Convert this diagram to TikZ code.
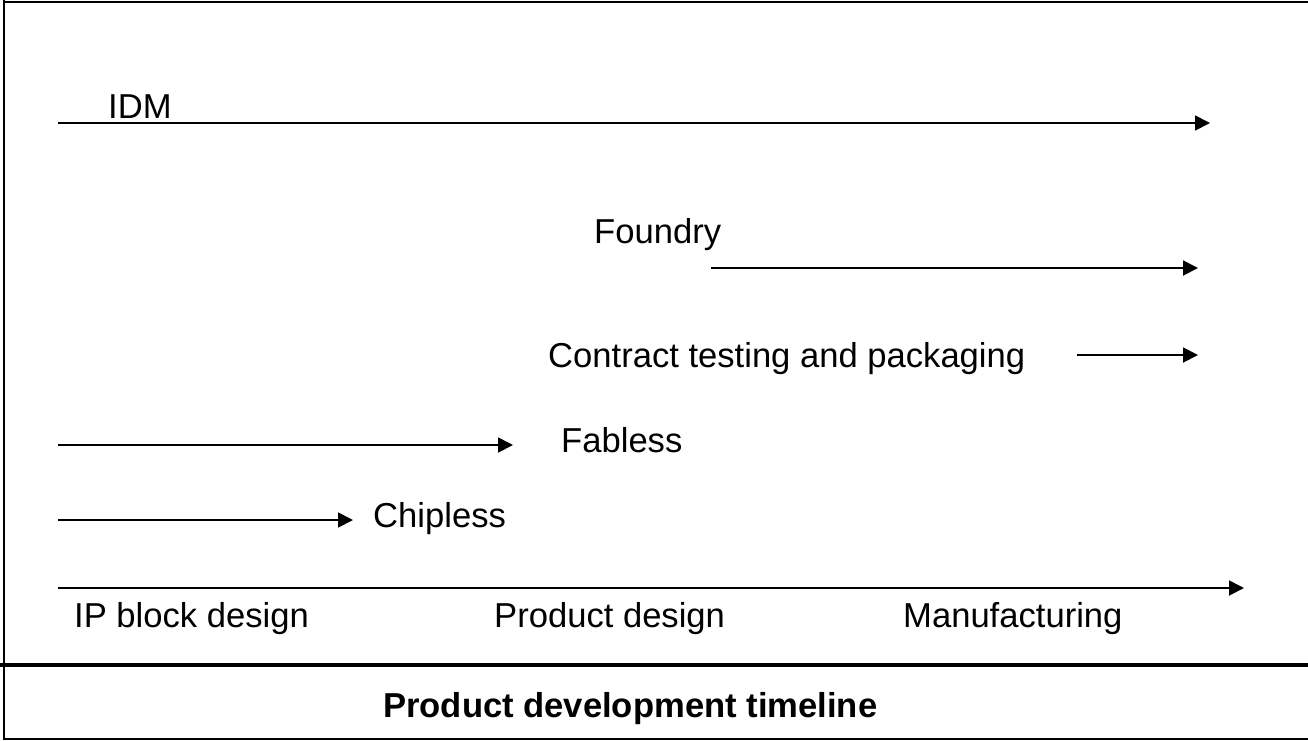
\documentclass[tikz,border=0pt]{standalone}
\usepackage{fontspec}
\setmainfont{Liberation Sans}
\usetikzlibrary{arrows.meta}
\begin{document}
\begin{tikzpicture}[x=1pt,y=-1pt,
  lbl/.style={anchor=base west,inner sep=0pt,font=\fontsize{34.6}{40}\selectfont},
  blbl/.style={lbl,font=\fontsize{34.6}{40}\selectfont\bfseries},
  arr/.style={line width=1.8pt,-{Triangle[length=15pt,width=15pt]}},
  frame/.style={line width=2.5pt}]
\useasboundingbox (0,0) rectangle (1308,740);
% frame
\draw[frame] (4,2) -- (1308,2);
\draw[frame] (4,0) -- (4,740);
\draw[line width=2pt] (4,739) -- (1308,739);
\draw[line width=3.5pt] (0,665) -- (1308,665);
% labels
\node[lbl] (idm) at (108,118) {IDM};
\node[lbl] (foundry) at (594,243) {Foundry};
\node[lbl] (ctp) at (548,367) {Contract testing and packaging};
\node[lbl] (fabless) at (561,452) {Fabless};
\node[lbl] (chipless) at (373,527) {Chipless};
\node[lbl] (ip) at (74,627) {IP block design};
\node[lbl] (pd) at (494,627) {Product design};
\node[lbl] (mf) at (903,627) {Manufacturing};
\node[blbl] (title) at (383,717) {Product development timeline};
% arrow endpoints
\coordinate (idmA) at (58,123);   \coordinate (idmB) at (1210,123);
\coordinate (foA) at (711,268);   \coordinate (foB) at (1198,268);
\coordinate (ctA) at (1077,355);  \coordinate (ctB) at (1198,355);
\coordinate (faA) at (58,445);    \coordinate (faB) at (513,445);
\coordinate (chA) at (58,520);    \coordinate (chB) at (353,520);
\coordinate (axA) at (58,588);    \coordinate (axB) at (1244,588);
\draw[arr] (idmA) -- (idmB);
\draw[arr] (foA) -- (foB);
\draw[arr] (ctA) -- (ctB);
\draw[arr] (faA) -- (faB);
\draw[arr] (chA) -- (chB);
\draw[arr] (axA) -- (axB);
\end{tikzpicture}
\end{document}
